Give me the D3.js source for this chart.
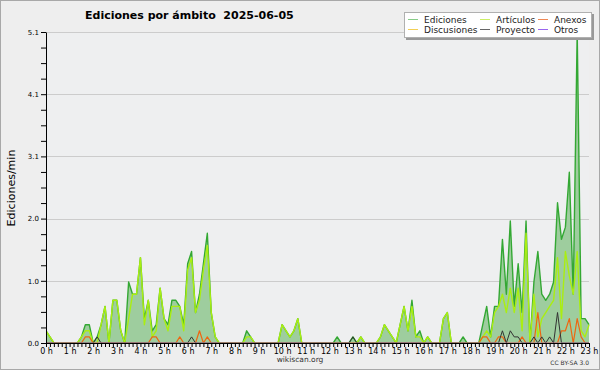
<!DOCTYPE html>
<html><head><meta charset="utf-8">
<script src="https://cdn.jsdelivr.net/npm/d3@7"></script>
<style>body{margin:0;background:#eeeeee;} svg{display:block;font-family:'DejaVu Sans',sans-serif;}</style>
</head><body><svg id="c" width="600" height="370"></svg>
<script>
const title = "Ediciones por ámbito  2025-06-05";
const yLabel = "Ediciones/min";
const hourLabels = ["0 h","1 h","2 h","3 h","4 h","5 h","6 h","7 h","8 h","9 h","10 h","11 h","12 h","13 h","14 h","15 h","16 h","17 h","18 h","19 h","20 h","21 h","22 h","23 h"];
const yTickValues = [0, 1.02, 2.04, 3.06, 4.08, 5.1];
const yTickLabels = ["0.0","1.0","2.0","3.1","4.1","5.1"];
const seriesNames = ["Ediciones","Artículos","Anexos","Discusiones","Proyecto","Otros"];
const footer = "wikiscan.org";
const license = "CC BY-SA 3.0";

// edits per minute, one value per 10-minute slot from 0:00 to 23:00
const ediciones = [
0.2,0.1,0,0,0,0,0,0,0,0.1,
0.3,0.3,0,0.1,0.3,0.6,0,0.7,0.7,0.2,
0,1.0,0.8,0.8,1.4,0.4,0.7,0.2,0.3,0.9,
0.4,0.3,0.7,0.7,0.6,0.3,1.3,1.5,0.5,0.8,
1.3,1.8,0.5,0.1,0,0,0,0,0,0,
0,0.2,0.1,0,0,0,0,0,0,0,
0.3,0.2,0.1,0.2,0.4,0,0,0,0,0,
0,0,0,0,0.1,0,0,0,0.1,0,
0.1,0,0,0,0,0.1,0.3,0.2,0.1,0,
0.3,0.6,0.2,0.7,0.1,0.2,0,0.1,0,0,
0,0.4,0.5,0,0,0,0.1,0,0,0,
0,0.3,0.6,0.1,0.6,0.6,1.7,0.8,2.0,0.6,
1.3,0.5,2.0,0,1.0,1.5,0.8,0.7,0.8,1.0,
2.3,1.7,1.9,2.8,0.8,5.1,0.4,0.4,0.3];
const articulos = [
0.2,0.1,0,0,0,0,0,0,0,0.1,
0.2,0.2,0,0,0.3,0.6,0,0.7,0.7,0.2,
0,0.4,0.8,0.8,1.4,0.3,0.7,0.1,0.2,0.9,
0.4,0.2,0.6,0.6,0.6,0.2,1.2,1.4,0.5,0.7,
1.2,1.6,0.5,0.1,0,0,0,0,0,0,
0,0.1,0.1,0,0,0,0,0,0,0,
0.3,0.2,0.1,0.2,0.4,0,0,0,0,0,
0,0,0,0,0,0,0,0,0,0,
0.1,0,0,0,0,0.1,0.3,0.2,0.1,0,
0.3,0.6,0.2,0.6,0.1,0.1,0,0.1,0,0,
0,0.4,0.5,0,0,0,0,0,0,0,
0,0.1,0.2,0.1,0.5,0.6,0.8,0.5,0.9,0.5,
0.9,0.2,1.8,0,0.8,0.1,0.4,0.5,0.6,0.7,
1.4,0.4,1.5,1.1,0.8,1.5,0.2,0.1,0.3];
const anexos = [
0,0,0,0,0,0,0,0,0,0,
0.1,0.1,0,0,0,0,0,0,0,0,
0,0,0,0,0,0,0,0.1,0.1,0,
0,0,0,0,0.1,0,0,0,0,0.2,
0,0.1,0,0,0,0,0,0,0,0,
0,0,0,0,0,0,0,0,0,0,
0,0,0,0,0,0,0,0,0,0,
0,0,0,0,0,0,0,0,0,0,
0,0,0,0,0,0,0,0,0,0,
0,0,0,0,0,0,0,0,0,0,
0,0,0,0,0,0,0,0,0,0,
0,0.1,0.1,0,0,0.1,0.1,0,0,0,
0,0.1,0,0,0,0.5,0,0,0,0,
0,0.2,0.2,0.4,0,0.4,0.1,0,0];
const proyecto = [
0,0,0,0,0,0,0,0,0,0,
0,0,0,0.1,0,0,0,0,0,0,
0,0,0,0,0,0,0,0,0,0,
0,0,0,0,0,0,0,0.1,0,0,
0,0,0,0,0,0,0,0,0,0,
0,0,0,0,0,0,0,0,0,0,
0,0,0,0,0,0,0,0,0,0,
0,0,0,0,0,0,0,0,0.1,0,
0,0,0,0,0,0,0,0,0,0,
0,0,0,0,0,0,0,0,0,0,
0,0,0,0,0,0,0,0,0,0,
0,0,0,0,0,0,0.2,0,0.2,0.1,
0.1,0,0,0,0.1,0,0.1,0,0.1,0,
0.5,0,0,0,0,0,0,0,0];
const discusiones = [
0,0,0,0,0,0,0,0,0,0, 0,0,0,0,0,0,0,0,0,0, 0,0,0,0,0,0,0,0,0,0,
0,0,0,0,0,0,0,0,0,0, 0,0,0,0,0,0,0,0,0,0, 0,0,0,0,0,0,0,0,0,0,
0,0,0,0,0,0,0,0,0,0, 0,0,0,0,0,0,0,0,0,0, 0,0,0,0,0,0,0,0,0,0,
0,0,0,0,0,0,0,0,0,0, 0,0,0,0,0,0,0,0,0,0, 0,0,0,0,0,0,0,0,0,0,
0,0,0,0,0,0,0,0,0,0, 0,0,0,0,0,0,0,0,0];
const otros = [
0,0,0,0,0,0,0,0,0,0, 0,0,0,0,0,0,0,0,0,0, 0,0,0,0,0,0,0,0,0,0,
0,0,0,0,0,0,0,0,0,0, 0,0,0,0,0,0,0,0,0,0, 0,0,0,0,0,0,0,0,0,0,
0,0,0,0,0,0,0,0,0,0, 0,0,0,0,0,0,0,0,0,0, 0,0,0,0,0,0,0,0,0,0,
0,0,0,0,0,0,0,0,0,0, 0,0,0,0,0,0,0,0,0,0, 0,0,0,0,0,0,0,0,0,0,
0,0,0,0,0,0,0,0,0,0, 0,0,0,0,0,0,0,0,0];

const W = 600, H = 370;
const L = 46, R = 589, T = 32, B = 343;
const svg = d3.select("#c");

svg.append("rect").attr("x",0.5).attr("y",0.5).attr("width",W-1).attr("height",H-1)
  .attr("fill","#eeeeee").attr("stroke","#a8a8a8");
svg.append("rect").attr("x",L).attr("y",T).attr("width",R-L).attr("height",B-T).attr("fill","#eeeff0");

const x = d3.scaleLinear().domain([0, 23]).range([L, R]);
const y = d3.scaleLinear().domain([0, 5.1]).range([B, T]);
const xi = i => x(i / 6);

// gridlines
svg.append("g").selectAll("line").data(yTickValues.slice(1)).join("line")
  .attr("x1",L).attr("x2",R).attr("y1",d=>Math.round(y(d))+0.5).attr("y2",d=>Math.round(y(d))+0.5)
  .attr("stroke","#cccccc").attr("stroke-width",1);

svg.append("defs").append("clipPath").attr("id","clip")
  .append("rect").attr("x",L).attr("y",0).attr("width",R-L+2).attr("height",B-0.6);

const area = d3.area().x((d,i)=>xi(i)).y0(B).y1(d=>y(d));
const line = d3.line().x((d,i)=>xi(i)).y(d=>y(d));

svg.append("path").datum(ediciones).attr("d",area).attr("fill","#9ecd9e");

const series = [
  {data: ediciones, color: "#33a833", w: 1.4},
  {data: articulos, color: "#aaee11", w: 1.4},
  {data: discusiones, color: "#ffcc00", w: 1.2},
  {data: anexos, color: "#ee6611", w: 1.2},
  {data: proyecto, color: "#333333", w: 1.0},
  {data: otros, color: "#8833ee", w: 1.0}
];
const gl = svg.append("g").attr("clip-path","url(#clip)");
series.forEach(s => {
  gl.append("path").datum(s.data).attr("d",line).attr("fill","none")
    .attr("stroke",s.color).attr("stroke-width",s.w).attr("stroke-linejoin","round");
});

// x axis
const xTicks = d3.range(0, 23*6+1).map(i => i/6);
const xAxis = d3.axisBottom(x).tickValues(xTicks).tickSize(4).tickSizeOuter(0).tickPadding(1)
  .tickFormat(d => Math.abs(d - Math.round(d)) < 1e-6 ? hourLabels[Math.round(d)] : "");
const gx = svg.append("g").attr("transform",`translate(0,${B})`).call(xAxis);
gx.selectAll("text").attr("font-size",8).attr("fill","#000").attr("font-family","DejaVu Sans");
gx.selectAll("line").attr("stroke","#000");
gx.select(".domain").attr("stroke","#000");

// y axis
const yMinor = d3.range(0, 21).map(k => k * 0.255);
const yAxis = d3.axisLeft(y).tickValues(yMinor).tickSize(5).tickSizeOuter(0).tickPadding(2)
  .tickFormat(d => { const j = yTickValues.findIndex(v => Math.abs(v - d) < 1e-6); return j >= 0 ? yTickLabels[j] : ""; });
const gy = svg.append("g").attr("transform",`translate(${L},0)`).call(yAxis);
gy.selectAll("text").attr("font-size",7).attr("fill","#000").attr("font-family","DejaVu Sans");
gy.selectAll("line").attr("stroke","#000");
gy.select(".domain").attr("stroke","#000");

// titles
svg.append("text").attr("x",85).attr("y",19).attr("font-size",11).attr("font-weight","bold")
  .style("white-space","pre").attr("fill","#000").text(title);
svg.append("text").attr("transform","translate(15,188) rotate(-90)").attr("text-anchor","middle")
  .attr("font-size",11).attr("fill","#000").text(yLabel);
svg.append("text").attr("x",300).attr("y",362).attr("text-anchor","middle").attr("font-size",7.5)
  .attr("fill","#333").text(footer);
svg.append("text").attr("x",589).attr("y",365).attr("text-anchor","end").attr("font-size",6)
  .attr("fill","#333").text(license);

// legend
const lg = svg.append("g");
lg.append("rect").attr("x",406).attr("y",14).attr("width",188).attr("height",26).attr("fill","#999");
lg.append("rect").attr("x",404.5).attr("y",12.5).attr("width",187).attr("height",25)
  .attr("fill","#ffffff").attr("stroke","#b0b0b0");
const legendColors = {"Ediciones":"#88cc88","Artículos":"#ccee66","Anexos":"#ee8855","Discusiones":"#f2cf55","Proyecto":"#666666","Otros":"#9966ee"};
const legendCols = [408, 480, 538];
const legendOrder = [["Ediciones","Discusiones"],["Artículos","Proyecto"],["Anexos","Otros"]];
legendOrder.forEach((col, c) => col.forEach((name, r) => {
  const ly = 19 + r * 10;
  lg.append("line").attr("x1",legendCols[c]).attr("x2",legendCols[c]+10).attr("y1",ly+0.5).attr("y2",ly+0.5)
    .attr("stroke",legendColors[name]).attr("stroke-width",1);
  lg.append("text").attr("x",legendCols[c]+16).attr("y",ly+3.5).attr("font-size",9).attr("fill","#222").text(name);
}));
</script>
</body></html>
